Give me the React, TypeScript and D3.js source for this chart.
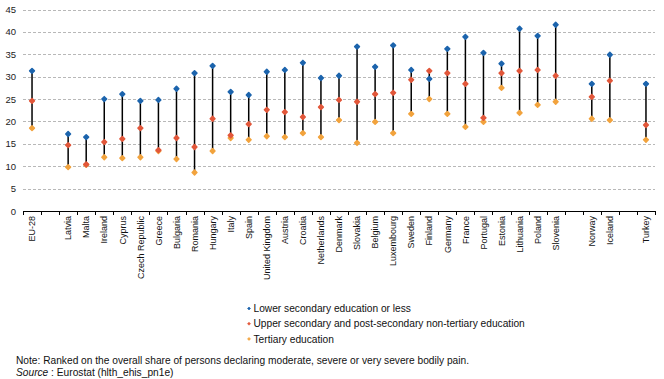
import React from "react";
import * as d3 from "d3";

const categories = [
  "EU-28", "", "Latvia", "Malta", "Ireland", "Cyprus", "Czech Republic", "Greece",
  "Bulgaria", "Romania", "Hungary", "Italy", "Spain", "United Kingdom", "Austria",
  "Croatia", "Netherlands", "Denmark", "Slovakia", "Belgium", "Luxembourg", "Sweden",
  "Finland", "Germany", "France", "Portugal", "Estonia", "Lithuania", "Poland",
  "Slovenia", " ", "Norway", "Iceland", "  ", "Turkey",
];

const lowerSecondary = [
  31.3, null, 17.2, 16.5, 25.0, 26.1, 24.6, 24.8, 27.3, 30.8, 32.4, 26.6, 25.9, 31.1,
  31.5, 33.1, 29.7, 30.2, 36.7, 32.2, 37.0, 31.5, 29.5, 36.2, 38.9, 35.3, 32.9, 40.7,
  39.1, 41.6, null, 28.4, 34.9, null, 28.4,
];

const upperSecondary = [
  24.6, null, 14.7, 10.4, 15.4, 16.1, 18.5, 13.6, 16.3, 14.3, 20.6, 16.9, 19.4, 22.6,
  22.1, 21.0, 23.2, 24.8, 24.4, 26.1, 26.4, 29.3, 31.3, 30.8, 28.4, 20.8, 30.8, 31.3,
  31.5, 30.2, null, 25.5, 29.1, null, 19.2,
];

const tertiary = [
  18.5, null, 9.8, 10.3, 12.0, 11.8, 12.0, 13.4, 11.6, 8.6, 13.4, 16.3, 15.9, 16.7,
  16.5, 17.4, 16.5, 20.3, 15.2, 19.9, 17.4, 21.7, 25.0, 21.7, 18.8, 19.9, 27.5, 21.9,
  23.7, 24.4, null, 20.6, 20.3, null, 15.9,
];

const yTicks = [0, 5, 10, 15, 20, 25, 30, 35, 40, 45];

const seriesNames = [
  "Lower secondary education or less",
  "Upper secondary and post-secondary non-tertiary education",
  "Tertiary education",
];
const seriesColors = ["#1c64ad", "#e2573a", "#f2a33d"];

const noteText =
  "Note: Ranked on the overall share of persons declaring moderate, severe or very severe bodily pain.";

const FONT = "'Liberation Sans', Arial, Helvetica, sans-serif";

export default function App() {
  const width = 664;
  const height = 379;
  const left = 23;
  const right = 655;
  const top = 9.5;
  const bottom = 211;

  const x = d3
    .scaleBand<number>()
    .domain(d3.range(categories.length))
    .range([left, right])
    .padding(0);
  const y = d3.scaleLinear().domain([0, 45]).range([bottom, top]);

  const series = [lowerSecondary, upperSecondary, tertiary];
  const marker = d3.symbol().type(d3.symbolSquare).size(11)();
  const smallMarker = d3.symbol().type(d3.symbolSquare).size(4.5)();

  const bw = x.bandwidth();

  return (
    <svg
      width={width}
      height={height}
      style={{ position: "absolute", left: 0, top: 0, background: "#fff" }}
      fontFamily={FONT}
    >
      {yTicks.map((t) =>
        t === 0 ? null : (
          <line
            key={"g" + t}
            x1={left}
            x2={right}
            y1={Math.round(y(t)) + 0.5}
            y2={Math.round(y(t)) + 0.5}
            stroke="#b8b8b8"
            strokeWidth={1}
            strokeDasharray="3,2"
          />
        )
      )}
      {yTicks.map((t) => (
        <text
          key={"yl" + t}
          x={16}
          y={y(t) + 3.5}
          textAnchor="end"
          fontSize={9.5}
          fill="#222"
        >
          {t}
        </text>
      ))}
      <line x1={left} x2={right} y1={bottom + 0.5} y2={bottom + 0.5} stroke="#000" strokeWidth={1} />
      {d3.range(categories.length + 1).map((i) => {
        const xx = Math.round(left + i * bw) + 0.5;
        return (
          <line key={"tk" + i} x1={xx} x2={xx} y1={bottom} y2={bottom + 4} stroke="#000" strokeWidth={1} />
        );
      })}
      {categories.map((c, i) => {
        const cx = (x(i) as number) + bw / 2;
        return c.trim() ? (
          <text
            key={"xl" + i}
            transform={`translate(${cx + 3.2},${bottom + 5}) rotate(-90)`}
            textAnchor="end"
            fontSize={9}
            fill="#111"
          >
            {c}
          </text>
        ) : null;
      })}
      {categories.map((c, i) => {
        const vals = series.map((s) => s[i]).filter((v) => v != null) as number[];
        if (!vals.length) return null;
        const cx = (x(i) as number) + bw / 2;
        return (
          <line
            key={"rl" + i}
            x1={cx}
            x2={cx}
            y1={y(d3.max(vals) as number)}
            y2={y(d3.min(vals) as number)}
            stroke="#000"
            strokeWidth={1.5}
          />
        );
      })}
      {[2, 1, 0].map((si) =>
        series[si].map((v, i) =>
          v == null ? null : (
            <path
              key={"m" + si + "-" + i}
              d={marker as string}
              transform={`translate(${(x(i) as number) + bw / 2},${y(v)}) rotate(45)`}
              fill={seriesColors[si]}
              stroke={seriesColors[si]}
              strokeWidth={1.6}
              strokeLinejoin="round"
            />
          )
        )
      )}
      {seriesNames.map((n, i) => (
        <g key={"lg" + i} transform={`translate(249,${308.5 + i * 15.2})`}>
          <path d={smallMarker as string} transform="rotate(45)" fill={seriesColors[i]} stroke={seriesColors[i]} strokeWidth={0.6} />
          <text x={4.5} y={3.6} fontSize={10.2} fill="#111">
            {n}
          </text>
        </g>
      ))}
      <text x={16} y={364} fontSize={10.2} fill="#111">
        {noteText}
      </text>
      <text x={16} y={375.5} fontSize={10.2} fill="#111">
        <tspan fontStyle="italic">Source</tspan>
        <tspan> : Eurostat (hlth_ehis_pn1e)</tspan>
      </text>
    </svg>
  );
}
